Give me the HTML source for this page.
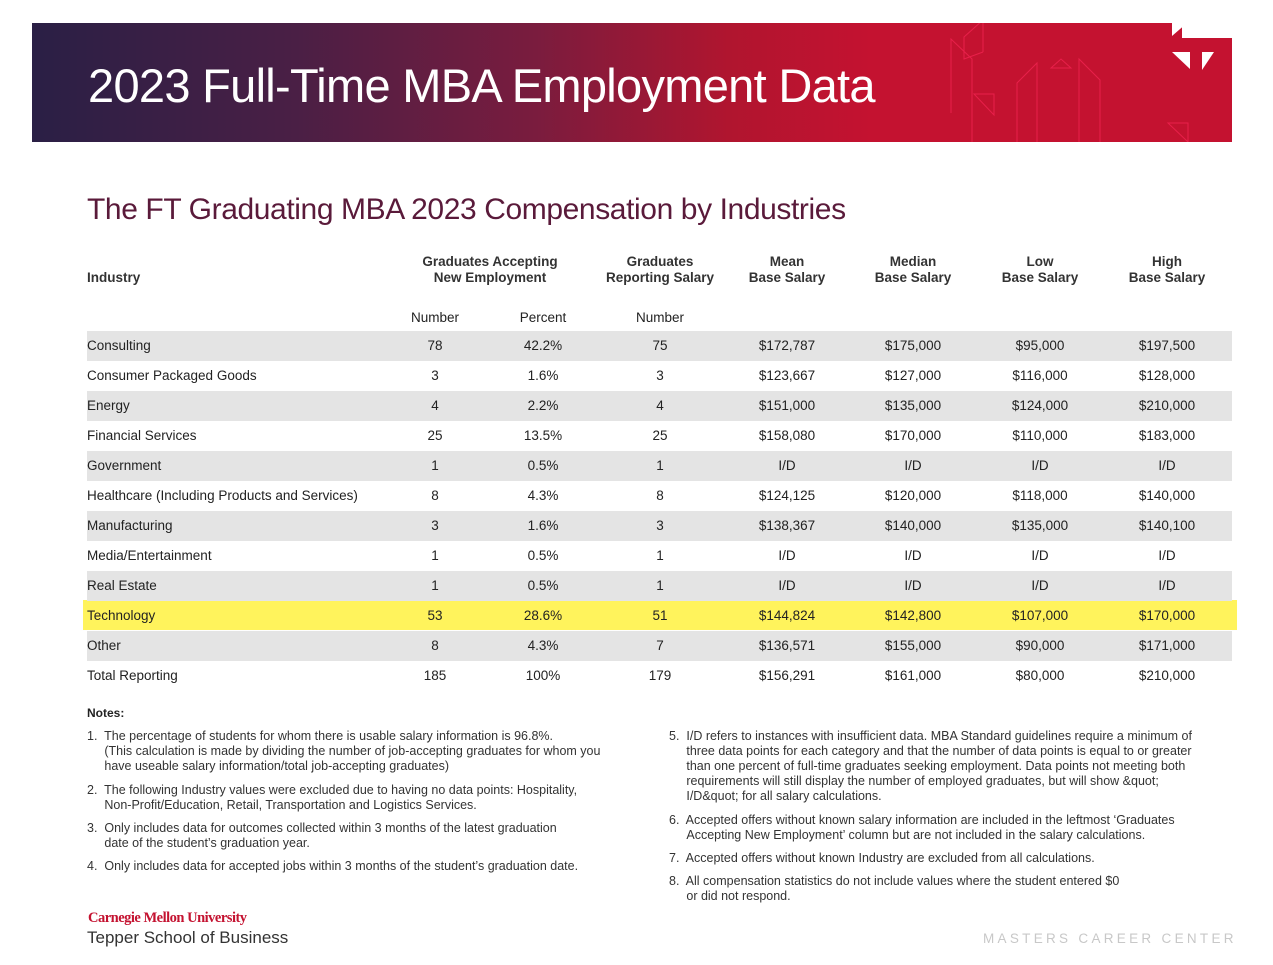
<!DOCTYPE html>
<html><head><meta charset="utf-8"><style>
body{margin:0;width:1273px;height:965px;background:#fff;position:relative;overflow:hidden;font-family:"Liberation Sans",sans-serif;color:#222}
.a{position:absolute;white-space:nowrap}
.banner{position:absolute;left:32px;top:23px;width:1200px;height:119px;background:linear-gradient(90deg,#2a1f45 0%,#4a1f45 22%,#7a1c3e 42%,#b0152f 58%,#c41230 70%,#c41230 100%)}
.h{font-weight:bold;font-size:13.5px;text-align:center;line-height:16px;color:#333}
.row{position:absolute;left:87px;width:1145px;height:30px;font-size:13.5px}
.row span{position:absolute;top:7px;transform:translateX(-50%)}
.row span.l{transform:none;left:0}
.g{background:#e4e4e4}
.n{font-size:12.5px;line-height:15px;color:#333}
</style></head><body>
<div class="banner"></div>
<svg class="a" style="left:32px;top:23px" width="1200" height="119">
<polygon points="1150,0 1200,0 1200,15 1160,15 1150,15" fill="#fff"/>
<polygon points="1140,0 1155,0 1140,13" fill="#fff"/>
<polygon points="1140,29 1158,29 1158,46" fill="#fff"/>
<polygon points="1170,29 1182,29 1170,47" fill="#fff"/>
<g fill="none" stroke="#e8204a" stroke-width="1">
<polyline points="919,90 919,16 940,36 940,119"/><polyline points="985,119 985,60 1005,40 1005,119"/><polyline points="1047,119 1047,36 1068,57 1068,119"/>
<polyline points="951,29 951,-3 932,14 932,36 951,29"/><polygon points="942,71 962,71 962,92"/><polygon points="1019,45 1039,45 1029,36"/>
<polygon points="1136,100 1156,100 1156,119"/>
</g></svg>
<div class="a" style="left:88px;top:58px;font-size:47px;color:#fff;letter-spacing:-0.7px">2023 Full-Time MBA Employment Data</div>
<div class="a" style="left:87px;top:193px;font-size:30px;color:#5a1a3a;letter-spacing:-0.4px">The FT Graduating MBA 2023 Compensation by Industries</div>
<div class="a h" style="left:87px;top:270px">Industry</div>
<div class="a h" style="left:490px;top:254px;transform:translateX(-50%)">Graduates Accepting<br>New Employment</div>
<div class="a h" style="left:660px;top:254px;transform:translateX(-50%)">Graduates<br>Reporting Salary</div>
<div class="a h" style="left:787px;top:254px;transform:translateX(-50%)">Mean<br>Base Salary</div>
<div class="a h" style="left:913px;top:254px;transform:translateX(-50%)">Median<br>Base Salary</div>
<div class="a h" style="left:1040px;top:254px;transform:translateX(-50%)">Low<br>Base Salary</div>
<div class="a h" style="left:1167px;top:254px;transform:translateX(-50%)">High<br>Base Salary</div>
<div class="a" style="left:435px;top:310px;font-size:13.5px;transform:translateX(-50%)">Number</div>
<div class="a" style="left:543px;top:310px;font-size:13.5px;transform:translateX(-50%)">Percent</div>
<div class="a" style="left:660px;top:310px;font-size:13.5px;transform:translateX(-50%)">Number</div>
<div class="a" style="left:83px;top:600px;width:1154px;height:30px;background:#fff35c"></div>
<div id="rows"></div>
<script>
const d=[["Consulting","78","42.2%","75","$172,787","$175,000","$95,000","$197,500"],
["Consumer Packaged Goods","3","1.6%","3","$123,667","$127,000","$116,000","$128,000"],
["Energy","4","2.2%","4","$151,000","$135,000","$124,000","$210,000"],
["Financial Services","25","13.5%","25","$158,080","$170,000","$110,000","$183,000"],
["Government","1","0.5%","1","I/D","I/D","I/D","I/D"],
["Healthcare (Including Products and Services)","8","4.3%","8","$124,125","$120,000","$118,000","$140,000"],
["Manufacturing","3","1.6%","3","$138,367","$140,000","$135,000","$140,100"],
["Media/Entertainment","1","0.5%","1","I/D","I/D","I/D","I/D"],
["Real Estate","1","0.5%","1","I/D","I/D","I/D","I/D"],
["Technology","53","28.6%","51","$144,824","$142,800","$107,000","$170,000"],
["Other","8","4.3%","7","$136,571","$155,000","$90,000","$171,000"],
["Total Reporting","185","100%","179","$156,291","$161,000","$80,000","$210,000"]];
const xs=[435,543,660,787,913,1040,1167];let h="";
d.forEach((r,i)=>{let c=(i%2==0&&i!=9)?"row g":"row";h+=`<div class="${c}" style="top:${331+i*30}px"><span class="l">${r[0]}</span>`;
for(let j=1;j<8;j++)h+=`<span style="left:${xs[j-1]-87}px">${r[j]}</span>`;h+="</div>";});
document.getElementById("rows").innerHTML=h;
</script>
<div class="a" style="left:87px;top:706px;font-size:12px;font-weight:bold">Notes:</div>
<div class="a n" style="left:87px;top:729px">1.&nbsp; The percentage of students for whom there is usable salary information is 96.8%.<br>&nbsp;&nbsp;&nbsp;&nbsp;&nbsp;(This calculation is made by dividing the number of job-accepting graduates for whom you<br>&nbsp;&nbsp;&nbsp;&nbsp;&nbsp;have useable salary information/total job-accepting graduates)</div>
<div class="a n" style="left:87px;top:783px">2.&nbsp; The following Industry values were excluded due to having no data points: Hospitality,<br>&nbsp;&nbsp;&nbsp;&nbsp;&nbsp;Non-Profit/Education, Retail, Transportation and Logistics Services.</div>
<div class="a n" style="left:87px;top:821px">3.&nbsp; Only includes data for outcomes collected within 3 months of the latest graduation<br>&nbsp;&nbsp;&nbsp;&nbsp;&nbsp;date of the student’s graduation year.</div>
<div class="a n" style="left:87px;top:859px">4.&nbsp; Only includes data for accepted jobs within 3 months of the student’s graduation date.</div>
<div class="a n" style="left:669px;top:729px">5.&nbsp; I/D refers to instances with insufficient data. MBA Standard guidelines require a minimum of<br>&nbsp;&nbsp;&nbsp;&nbsp;&nbsp;three data points for each category and that the number of data points is equal to or greater<br>&nbsp;&nbsp;&nbsp;&nbsp;&nbsp;than one percent of full-time graduates seeking employment. Data points not meeting both<br>&nbsp;&nbsp;&nbsp;&nbsp;&nbsp;requirements will still display the number of employed graduates, but will show &amp;quot;<br>&nbsp;&nbsp;&nbsp;&nbsp;&nbsp;I/D&amp;quot; for all salary calculations.</div>
<div class="a n" style="left:669px;top:813px">6.&nbsp; Accepted offers without known salary information are included in the leftmost ‘Graduates<br>&nbsp;&nbsp;&nbsp;&nbsp;&nbsp;Accepting New Employment’ column but are not included in the salary calculations.</div>
<div class="a n" style="left:669px;top:851px">7.&nbsp; Accepted offers without known Industry are excluded from all calculations.</div>
<div class="a n" style="left:669px;top:874px">8.&nbsp; All compensation statistics do not include values where the student entered $0<br>&nbsp;&nbsp;&nbsp;&nbsp;&nbsp;or did not respond.</div>
<div class="a" style="left:88px;top:910px;font-family:'Liberation Serif',serif;font-weight:bold;font-size:14.5px;color:#c41230;letter-spacing:-0.5px">Carnegie Mellon University</div>
<div class="a" style="left:87px;top:928px;font-size:17px;color:#333">Tepper School of Business</div>
<div class="a" style="left:983px;top:931px;font-size:13.5px;letter-spacing:3.3px;color:#c8c8c8">MASTERS CAREER CENTER</div>
</body></html>
